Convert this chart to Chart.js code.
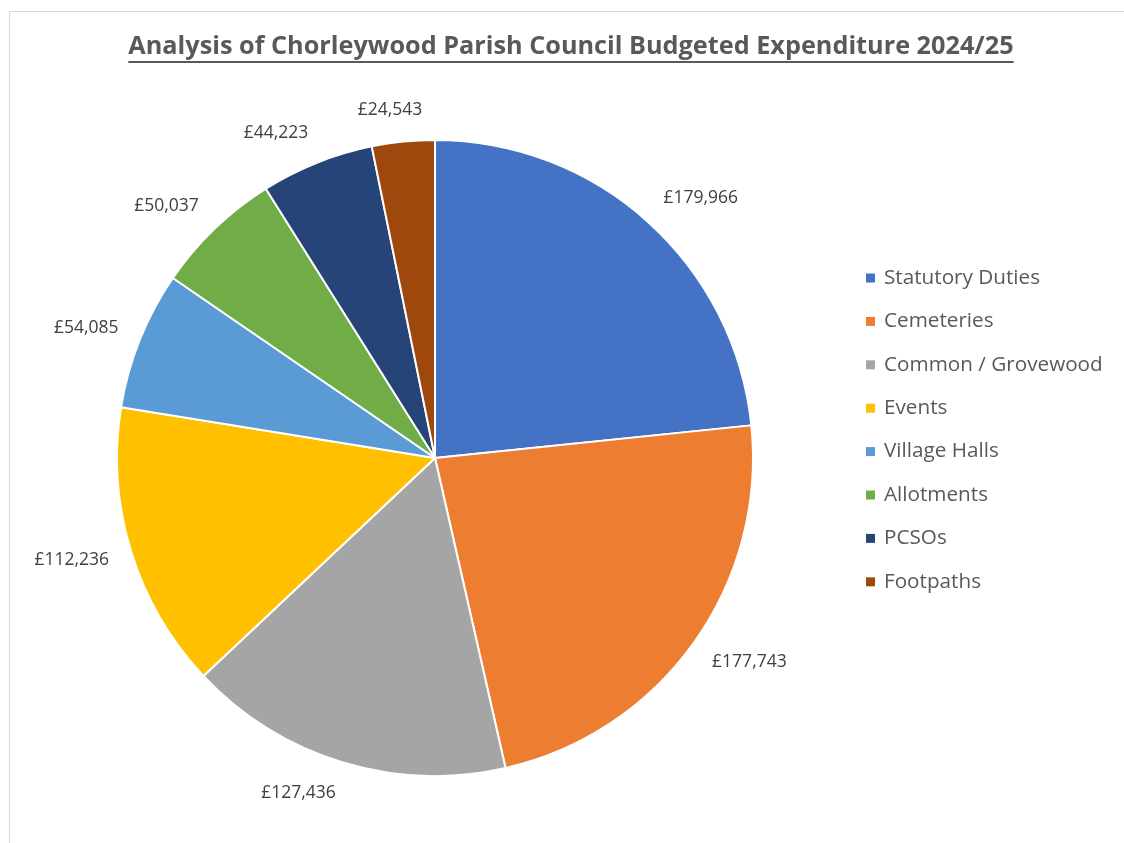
<!DOCTYPE html>
<html>
<head>
<meta charset="utf-8">
<script src="https://cdn.jsdelivr.net/npm/chart.js@4.4.1/dist/chart.umd.min.js"></script>
<style>
  html, body { margin: 0; padding: 0; background: #fff; overflow: hidden; }
  #frame {
    position: absolute; left: 9px; top: 11px; width: 1200px; height: 900px;
    border: 1px solid #d9d9d9; box-sizing: border-box;
  }
  #chart { position: absolute; left: 0; top: 0; }
</style>
</head>
<body>
<div id="frame"></div>
<canvas id="chart" width="1124" height="843"></canvas>
<script>
// Chart data
const chartTitle = 'Analysis of Chorleywood Parish Council Budgeted Expenditure 2024/25';
const categories = ['Statutory Duties', 'Cemeteries', 'Common / Grovewood', 'Events',
                    'Village Halls', 'Allotments', 'PCSOs', 'Footpaths'];
const amounts = [179966, 177743, 127436, 112236, 54085, 50037, 44223, 24543];
const colors = ['#4472C4', '#ED7D31', '#A5A5A5', '#FFC000', '#5B9BD5', '#70AD47', '#264478', '#9E480E'];

const formatPounds = v => '£' + v.toLocaleString('en-GB');
const clamp = v => Math.max(-1, Math.min(1, v));

// Title (underlined), outside-end data labels and legend
const decorPlugin = {
    id: 'decor',
    afterDraw(chart) {
        const ctx = chart.ctx;
        ctx.save();

        // title, sized to the original width
        let size = 24;
        ctx.font = `bold ${size}px "Open Sans"`;
        const w0 = ctx.measureText(chartTitle).width;
        size = size * 886 / w0;
        ctx.font = `bold ${size}px "Open Sans"`;
        const tw = ctx.measureText(chartTitle).width;
        const tx = 571, ty = 47;
        ctx.fillStyle = '#595959';
        ctx.textAlign = 'center';
        ctx.textBaseline = 'middle';
        ctx.fillText(chartTitle, tx, ty);
        ctx.fillRect(tx - tw / 2, ty + 14, tw, 2);

        // data labels: box corner facing the centre sits just outside the arc
        const meta = chart.getDatasetMeta(0);
        ctx.font = '17.5px "Open Sans"';
        ctx.fillStyle = '#404040';
        meta.data.forEach((arc, i) => {
            const p = arc.getProps(['x', 'y', 'startAngle', 'endAngle', 'outerRadius'], true);
            const mid = (p.startAngle + p.endAngle) / 2;
            const dx = Math.cos(mid), dy = Math.sin(mid);
            const text = formatPounds(amounts[i]);
            const w = ctx.measureText(text).width;
            const h = 18;
            const r = p.outerRadius + 23;
            const cx = p.x + dx * r + clamp(dx * 3.4) * w / 2;
            const cy = p.y + dy * r + dy * h / 2;
            ctx.fillText(text, cx, cy);
        });

        // legend
        ctx.font = '20.7px "Open Sans"';
        ctx.textAlign = 'left';
        categories.forEach((name, i) => {
            const y = 278 + i * 43.4;
            ctx.fillStyle = colors[i];
            ctx.fillRect(866, y - 4.5, 9, 9);
            ctx.fillStyle = '#595959';
            ctx.fillText(name, 884, y);
        });

        ctx.restore();
    }
};

new Chart(document.getElementById('chart'), {
    type: 'pie',
    data: {
        labels: categories,
        datasets: [{
            data: amounts,
            backgroundColor: colors,
            borderColor: '#ffffff',
            borderWidth: 2
        }]
    },
    options: {
        responsive: false,
        animation: false,
        devicePixelRatio: 1,
        layout: { padding: { left: 116, top: 139, right: 370, bottom: 66 } },
        plugins: {
            legend: { display: false },
            tooltip: { enabled: false }
        }
    },
    plugins: [decorPlugin]
});
</script>
</body>
</html>
